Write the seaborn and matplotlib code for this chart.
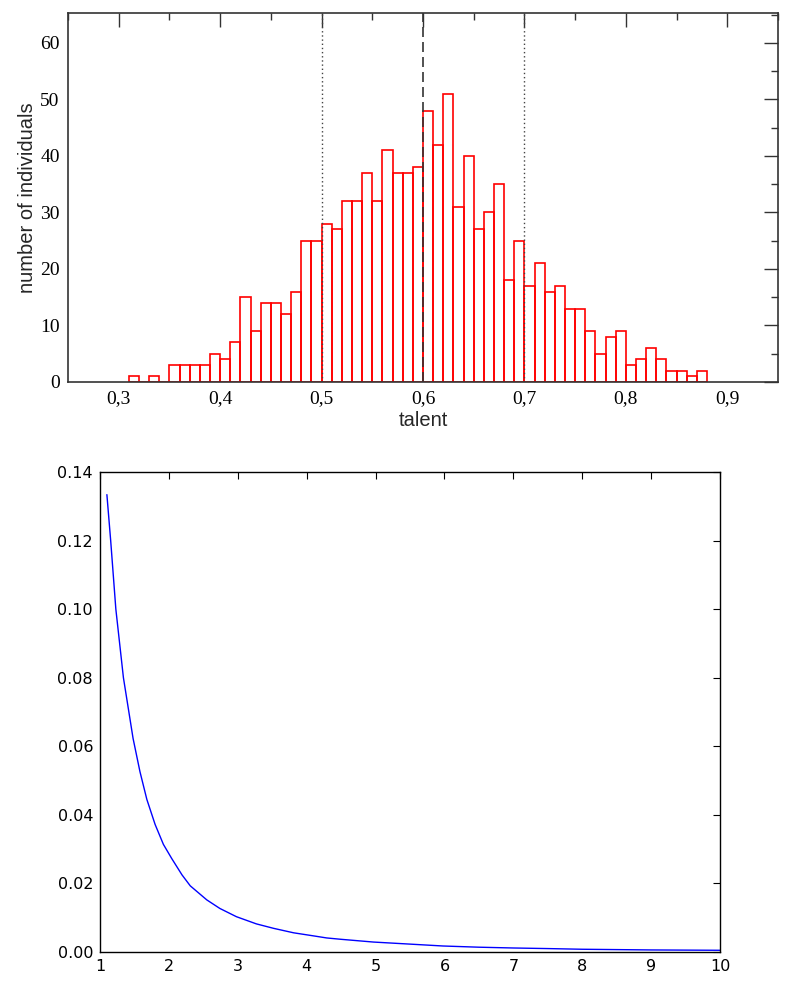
import numpy as np
import matplotlib
matplotlib.use("Agg")
import matplotlib.pyplot as plt
import seaborn as sns

# ---------------- data ----------------
talent_bins = [0.31, 0.32, 0.33, 0.34, 0.35, 0.36, 0.37, 0.38, 0.39, 0.40,
               0.41, 0.42, 0.43, 0.44, 0.45, 0.46, 0.47, 0.48, 0.49, 0.50,
               0.51, 0.52, 0.53, 0.54, 0.55, 0.56, 0.57, 0.58, 0.59, 0.60,
               0.61, 0.62, 0.63, 0.64, 0.65, 0.66, 0.67, 0.68, 0.69, 0.70,
               0.71, 0.72, 0.73, 0.74, 0.75, 0.76, 0.77, 0.78, 0.79, 0.80,
               0.81, 0.82, 0.83, 0.84, 0.85, 0.86, 0.87]
counts = [1, 0, 1, 0, 3, 3, 3, 3, 5, 4,
          7, 15, 9, 14, 14, 12, 16, 25, 25, 28,
          27, 32, 32, 37, 32, 41, 37, 37, 38, 48,
          42, 51, 31, 40, 27, 30, 35, 18, 25, 17,
          21, 16, 17, 13, 13, 9, 5, 8, 9, 3,
          4, 6, 4, 2, 2, 1, 2]
bin_width = 0.01
ref_lines = [0.5, 0.6, 0.7]
top_xticks = [0.3, 0.4, 0.5, 0.6, 0.7, 0.8, 0.9]
top_xticklabels = ["0,3", "0,4", "0,5", "0,6", "0,7", "0,8", "0,9"]
top_yticks = [0, 10, 20, 30, 40, 50, 60]

curve_x = [1.10, 1.155, 1.23, 1.34, 1.48, 1.58, 1.68, 1.80, 1.92, 2.04,
           2.19, 2.31, 2.55, 2.74, 2.98, 3.27, 3.52, 3.81, 4.10, 4.29,
           4.50, 4.97, 5.50, 5.98, 6.50, 7.00, 7.50, 8.00, 8.50, 9.00,
           9.50, 10.0]
curve_y = [0.1334, 0.120, 0.100, 0.080, 0.0623, 0.0526, 0.0445, 0.0372, 0.0314, 0.0273,
           0.0225, 0.0193, 0.0152, 0.0127, 0.0103, 0.0082, 0.0069, 0.0056, 0.0047, 0.0041,
           0.0037, 0.0029, 0.0023, 0.00175, 0.0014, 0.00117, 0.0010, 0.0008, 0.0007, 0.0006,
           0.00055, 0.0005]
bot_xticks = [1, 2, 3, 4, 5, 6, 7, 8, 9, 10]
bot_yticks = [0.00, 0.02, 0.04, 0.06, 0.08, 0.10, 0.12, 0.14]

# ---------------- style ----------------
sns.set_style("white")
plt.rcParams["font.family"] = ["DejaVu Sans"]

fig = plt.figure(figsize=(8, 9.96), dpi=100)

# ---------------- top: histogram ----------------
ax1 = fig.add_axes([68 / 800, 1 - 382 / 996, 710 / 800, 369 / 996])
centers = [b + bin_width / 2 for b in talent_bins]
edges = [round(talent_bins[0] + i * bin_width, 2) for i in range(len(talent_bins) + 1)]
sns.histplot(x=centers, weights=counts, bins=edges, fill=False,
             element="bars", color="red", linewidth=1.2, ax=ax1)
ax1.axvline(ref_lines[0], color="#444444", linestyle=(0, (1, 2)), linewidth=1.0)
ax1.axvline(ref_lines[1], color="#333333", linestyle=(0, (6, 3)), linewidth=1.2)
ax1.axvline(ref_lines[2], color="#444444", linestyle=(0, (1, 2)), linewidth=1.0)
ax1.set_xlim(0.25, 0.95)
ax1.set_ylim(0, 65.3)
ax1.set_xticks(top_xticks)
ax1.set_xticklabels(top_xticklabels)
ax1.set_xticks([0.25, 0.35, 0.45, 0.55, 0.65, 0.75, 0.85, 0.95], minor=True)
ax1.set_yticks(top_yticks)
ax1.set_yticks([5, 15, 25, 35, 45, 55, 65], minor=True)
ax1.tick_params(which="both", direction="in", top=True, right=True,
                colors="#333333", labelcolor="black", width=1.0)
ax1.tick_params(which="major", length=10, pad=6)
ax1.tick_params(which="minor", length=5)
for lab in ax1.get_xticklabels() + ax1.get_yticklabels():
    lab.set_family("Liberation Serif")
    lab.set_fontsize(14)
ax1.set_xlabel("talent", fontsize=14.5, family="Liberation Sans", labelpad=3)
ax1.set_ylabel("number of individuals", fontsize=14.5, family="Liberation Sans", labelpad=2)
for s in ax1.spines.values():
    s.set_color("#333333")
    s.set_linewidth(1.2)

# ---------------- bottom: decaying curve ----------------
ax2 = fig.add_axes([100 / 800, 1 - 952 / 996, 620 / 800, 480 / 996])
sns.lineplot(x=curve_x, y=curve_y, color="#0000ff", linewidth=1.0, ax=ax2)
ax2.set_xlim(1, 10)
ax2.set_ylim(0, 0.14)
ax2.set_xticks(bot_xticks)
ax2.set_yticks(bot_yticks)
ax2.set_yticklabels([f"{v:.2f}" for v in bot_yticks])
ax2.tick_params(which="both", direction="in", top=True, right=True,
                length=5, width=0.8, colors="black", labelsize=11.5, pad=5)
for s in ax2.spines.values():
    s.set_color("black")
    s.set_linewidth(1.0)

fig.savefig("out.png", dpi=100)
